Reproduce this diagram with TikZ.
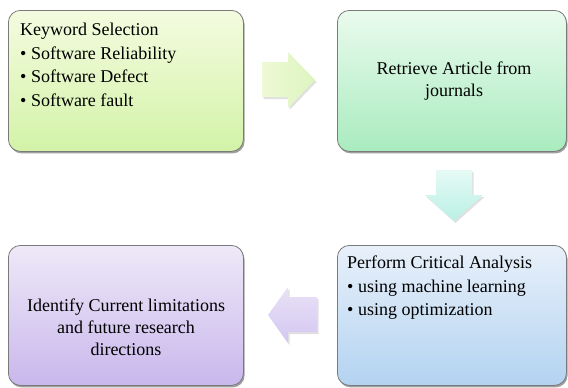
\documentclass[tikz,border=0pt]{standalone}
\usepackage{fontspec}
\setmainfont{Liberation Serif}
\usetikzlibrary{shadows}
\definecolor{boxline}{HTML}{7A7A7A}
\definecolor{gAtop}{HTML}{F4FBDF}
\definecolor{gAbot}{HTML}{D3F3A8}
\definecolor{gBtop}{HTML}{EAFBEE}
\definecolor{gBbot}{HTML}{A9EBBF}
\definecolor{gCtop}{HTML}{E8F0FA}
\definecolor{gCbot}{HTML}{B3D3F1}
\definecolor{gDtop}{HTML}{EEE9F8}
\definecolor{gDbot}{HTML}{C9B7EC}
\definecolor{arAtop}{HTML}{EEF9D6}
\definecolor{arAbot}{HTML}{DDF5BE}
\definecolor{arBtop}{HTML}{E6FAF5}
\definecolor{arBbot}{HTML}{B9F0E5}
\definecolor{arCtop}{HTML}{E9E2F7}
\definecolor{arCbot}{HTML}{D3C6F0}
\begin{document}
\begin{tikzpicture}[x=1pt,y=-1pt,
  box/.style={draw=boxline, line width=0.8pt, rounded corners=12pt, inner sep=0pt,
    anchor=north west,
    drop shadow={shadow xshift=1.2pt, shadow yshift=-2pt, opacity=0.5, fill=black!75}},
  blockarrow/.style={draw=none,
    drop shadow={shadow xshift=1.5pt, shadow yshift=-2pt, opacity=0.12, fill=black}},
  txt/.style={inner sep=0pt, font=\fontsize{18}{23.5}\selectfont, text=black},
  ctxt/.style={inner sep=0pt, font=\fontsize{18}{22}\selectfont, text=black, align=center}]
\useasboundingbox (0,0) rectangle (568,388);
% boxes
\node[box, top color=gAtop, bottom color=gAbot, minimum width=235pt, minimum height=141pt] (b1) at (8,10) {};
\node[box, top color=gBtop, bottom color=gBbot, minimum width=229pt, minimum height=141pt] (b2) at (337,10) {};
\node[box, top color=gCtop, bottom color=gCbot, minimum width=229pt, minimum height=140pt] (b3) at (337,245) {};
\node[box, top color=gDtop, bottom color=gDbot, minimum width=235pt, minimum height=140pt] (b4) at (8,245) {};
% texts
\node[txt, anchor=north west, align=left] (t1) at (20,23) {Keyword Selection\\\textbullet\ Software Reliability\\\textbullet\ Software Defect\\\textbullet\ Software fault};
\node[ctxt] (t2) at (454,81) {Retrieve Article from\\journals};
\node[txt, anchor=north west, align=left] (t3) at (347,256) {Perform Critical Analysis\\\textbullet\ using machine learning\\\textbullet\ using optimization};
\node[ctxt] (t4) at (126,327) {Identify Current limitations\\and future research\\directions};
% block arrows
\path[blockarrow, left color=arAtop, right color=arAbot]
  (262,62) -- (288,62) -- (288,52) -- (315,80) -- (288,108) -- (288,97) -- (262,97) -- cycle;
\path[blockarrow, top color=arBtop, bottom color=arBbot]
  (436,170) -- (472,170) -- (472,195) -- (483,195) -- (454,221) -- (425,195) -- (436,195) -- cycle;
\path[blockarrow, top color=arCtop, bottom color=arCbot]
  (317,297) -- (317,332) -- (288,332) -- (288,343) -- (268,315) -- (288,287) -- (288,297) -- cycle;
\end{tikzpicture}
\end{document}
